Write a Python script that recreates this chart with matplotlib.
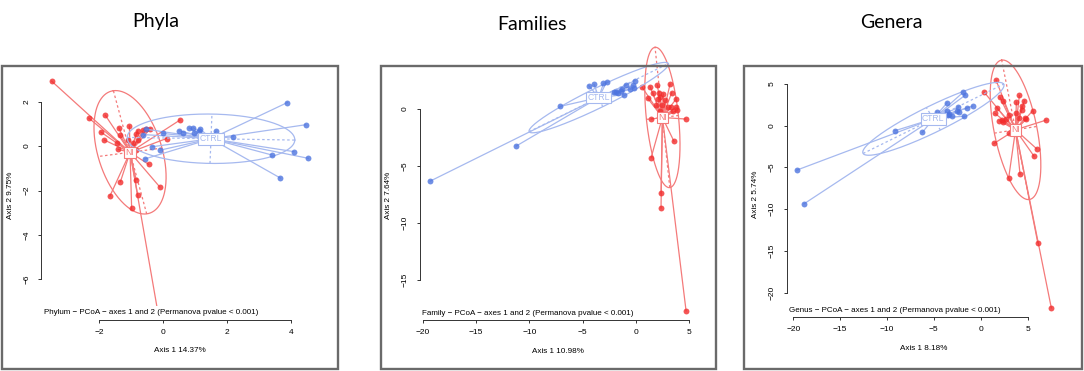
import numpy as np
import matplotlib
matplotlib.use("Agg")
import matplotlib.pyplot as plt
from matplotlib.patches import Rectangle

plt.rcParams['font.family'] = ['Liberation Sans', 'DejaVu Sans']

W, H = 1084, 371

# ---------------- Phyla ----------------
phy_ni_x = [-3.48, -2.32, -1.80, -1.94, -1.83, -1.38, -1.34, -1.43, -1.40, -1.05,
            -1.09, -0.93, -0.79, -0.83, -0.77, -0.61, -0.53, -0.40, 0.53, 0.11,
            -0.45, -1.33, -1.66, -0.84, -0.10, -0.79, -0.98, -0.17, -0.84]
phy_ni_y = [2.92, 1.26, 1.38, 0.63, 0.27, 0.82, 0.49, 0.15, -0.15, 0.91,
            0.27, 0.12, 0.69, 0.54, 0.27, 0.72, 0.75, 0.78, 1.17, 0.34,
            -0.82, -1.60, -2.25, -1.51, -1.84, -2.20, -2.80, -7.39, -0.18]
phy_ctrl_x = [-0.54, -0.64, -0.01, -0.34, -0.08, -0.57, 0.50, 0.64, 0.82, 0.95,
              0.98, 1.15, 1.14, 1.66, 2.20, 3.89, 4.46, 4.54, 4.09, 3.40, 3.67]
phy_ctrl_y = [0.76, 0.52, 0.57, -0.03, -0.18, -0.58, 0.69, 0.61, 0.81, 0.82,
              0.60, 0.79, 0.67, 0.67, 0.42, 1.96, 0.96, -0.55, -0.25, -0.40, -1.44]
phy_ni_center = [-1.03, -0.28]
phy_ni_axes = [[-0.52, 2.77], [-1.00, -0.19]]
phy_ctrl_center = [1.50, 0.33]
phy_ctrl_axes = [[2.62, -0.06], [0.03, 1.11]]
phy_xticks = [-2, 0, 2, 4]
phy_yticks = [-6, -4, -2, 0, 2]

# ---------------- Families ----------------
fam_ni_x = [0.53, 1.31, 2.00, 3.19, 1.56, 2.13, 2.56, 3.34, 1.09, 2.06,
            2.25, 2.72, 3.75, 1.88, 2.44, 2.97, 3.28, 3.75, 3.88, 3.44,
            2.25, 1.41, 4.66, 3.56, 1.41, 2.34, 2.34, 4.69]
fam_ni_y = [1.96, 1.96, 2.11, 2.19, 1.43, 1.43, 1.32, 1.43, 0.94, 0.85,
            1.08, 0.79, 0.88, 0.32, 0.35, 0.15, 0.15, 0.15, -0.12, -0.18,
            -0.20, -0.88, -0.88, -2.84, -4.27, -7.40, -8.68, -17.69]
fam_ctrl_x = [-19.31, -11.25, -7.13, -4.44, -3.94, -3.06, -2.75, -2.03, -1.88, -1.66,
              -1.44, -1.34, -1.13, -0.94, -0.53, -0.25, -0.09, -0.19]
fam_ctrl_y = [-6.32, -3.25, 0.23, 2.05, 2.16, 2.25, 2.40, 1.46, 1.49, 1.43,
              1.58, 1.78, 1.26, 2.08, 1.78, 2.08, 2.49, 1.81]
fam_ni_center = [2.47, -0.74]
fam_ni_axes = [[-0.69, 6.15], [1.50, 0.17]]
fam_ctrl_center = [-3.50, 1.00]
fam_ctrl_axes = [[6.53, 2.98], [-0.37, 0.80]]
fam_xticks = [-20, -15, -10, -5, 0, 5]
fam_yticks = [-15, -10, -5, 0]

# ---------------- Genera ----------------
gen_ni_x = [0.36, 1.64, 1.74, 1.53, 1.42, 2.06, 2.42, 1.99, 2.24, 2.42,
            2.67, 3.06, 3.06, 3.74, 3.81, 4.13, 4.38, 4.38, 4.66, 4.13,
            4.73, 4.84, 5.55, 6.98, 5.98, 5.69, 4.20, 2.99, 6.09, 7.54]
gen_ni_y = [4.04, 5.48, 2.12, 1.48, -2.12, 3.40, 3.00, 0.60, 0.68, 0.48,
            0.76, 1.28, -0.92, 1.48, 2.84, 3.64, 2.36, 1.88, 3.00, 0.88,
            0.96, 0.76, 1.80, 0.68, -2.76, -3.64, -5.80, -6.24, -14.00, -21.84]
gen_ctrl_x = [-19.64, -18.86, -9.18, -6.23, -4.70, -3.59, -3.59, -3.52, -3.35, -3.06,
              -2.49, -2.38, -2.28, -1.85, -1.64, -1.49, -1.74, -0.85]
gen_ctrl_y = [-5.32, -9.36, -0.60, -0.80, 1.68, 2.76, 1.80, 1.28, 1.40, 1.16,
              1.80, 2.20, 1.68, 4.04, 3.68, 2.12, 1.16, 2.36]
gen_ni_center = [3.72, -0.48]
gen_ni_axes = [[-1.48, 8.36], [2.26, 0.40]]
gen_ctrl_center = [-5.05, 0.84]
gen_ctrl_axes = [[7.50, 4.16], [-0.75, 1.35]]
gen_xticks = [-20, -15, -10, -5, 0, 5]
gen_yticks = [-20, -15, -10, -5, 0, 5]

titles = ['Phyla', 'Families', 'Genera']
xlabels = ['Axis 1 14.37%', 'Axis 1 10.98%', 'Axis 1 8.18%']
ylabels = ['Axis 2 9.75%', 'Axis 2 7.64%', 'Axis 2 5.74%']
subs = ['Phylum', 'Family', 'Genus']

RED = '#f22c2c'
RED_LINE = '#f47a7a'
BLUE = '#4d74df'
BLUE_LINE = '#a6b9ef'


def draw_group(ax, xs, ys, center, axes, col, lcol, label, z):
    cx, cy = center
    for x, y in zip(xs, ys):
        ax.plot([cx, x], [cy, y], color=lcol, lw=0.9, zorder=z, clip_on=False)
    u, v = np.array(axes[0]), np.array(axes[1])
    t = np.linspace(0, 2 * np.pi, 300)
    ex = cx + np.cos(t) * u[0] + np.sin(t) * v[0]
    ey = cy + np.cos(t) * u[1] + np.sin(t) * v[1]
    ax.plot(ex, ey, color=lcol, lw=0.9, zorder=z, clip_on=False)
    for w in (u, v):
        ax.plot([cx - w[0], cx + w[0]], [cy - w[1], cy + w[1]], color=lcol,
                lw=0.9, ls=(0, (2, 2)), zorder=z, clip_on=False)
    ax.scatter(xs, ys, s=18, color=col, alpha=0.8, lw=0, zorder=z + 0.5, clip_on=False)
    ax.text(cx, cy, label, color=lcol, fontsize=6.2, ha='center', va='center', zorder=6,
            bbox=dict(boxstyle='square,pad=0.15', fc='white', ec=lcol, lw=0.8))


def draw_panel(ax, ni, ctrl, xticks, yticks, xlab, ylab, sub):
    allx = np.concatenate([ni[0], ctrl[0]])
    ally = np.concatenate([ni[1], ctrl[1]])
    px = 0.04 * (allx.max() - allx.min())
    py = 0.04 * (ally.max() - ally.min())
    ax.set_xlim(allx.min() - px, allx.max() + px)
    ax.set_ylim(ally.min() - py, ally.max() + py)

    draw_group(ax, ni[0], ni[1], ni[2], ni[3], RED, RED_LINE, 'NI', 2)
    draw_group(ax, ctrl[0], ctrl[1], ctrl[2], ctrl[3], BLUE, BLUE_LINE, 'CTRL', 3)

    for s in ('top', 'right'):
        ax.spines[s].set_visible(False)
    ax.spines['left'].set_bounds(yticks[0], yticks[-1])
    ax.spines['bottom'].set_bounds(xticks[0], xticks[-1])
    for s in ('left', 'bottom'):
        ax.spines[s].set_linewidth(0.7)
        ax.spines[s].set_color('#333333')
        ax.spines[s].set_zorder(1)
    ax.set_xticks(xticks)
    ax.set_yticks(yticks)
    ax.tick_params(direction='out', length=2.5, width=0.7, color='#333333',
                   labelsize=6.0, pad=4.3)
    ax.tick_params(axis='y', labelrotation=90, pad=5.5)
    for lab in ax.get_yticklabels():
        lab.set_va('center')
    ax.xaxis.set_zorder(8)
    ax.yaxis.set_zorder(8)

    ax.annotate(xlab, xy=(0.5, 0), xycoords='axes fraction', xytext=(0, -22.5),
                textcoords='offset points', ha='center', va='center', fontsize=5.9)
    ax.annotate(ylab, xy=(0, 0.5), xycoords='axes fraction', xytext=(-22.5, 0),
                textcoords='offset points', ha='center', va='center', fontsize=5.9,
                rotation=90)
    ax.annotate(sub + ' \u2212 PCoA \u2212 axes 1 and 2 (Permanova pvalue < 0.001)',
                xy=(0, 0), xycoords='axes fraction', xytext=(1.6, 2.3),
                textcoords='offset points', ha='left', va='bottom', fontsize=5.8,
                zorder=7, bbox=dict(boxstyle='square,pad=0.45', fc='white', ec='none'))


fig = plt.figure(figsize=(W / 100, H / 100), dpi=100)
fig.patch.set_facecolor('white')

boxes = [(41.4, 318.5, 72.0, 319.5), (420.0, 696.3, 71.4, 320.0), (786.5, 1061.5, 71.0, 317.0)]
frames = [(1.5, 338.0, 65.5, 368.5), (381.0, 716.0, 66.0, 368.5), (744.0, 1082.0, 66.0, 368.5)]
title_pos = [(155.5, 21), (532, 25), (891.5, 22)]

panels = [
    ((phy_ni_x, phy_ni_y, phy_ni_center, phy_ni_axes),
     (phy_ctrl_x, phy_ctrl_y, phy_ctrl_center, phy_ctrl_axes), phy_xticks, phy_yticks),
    ((fam_ni_x, fam_ni_y, fam_ni_center, fam_ni_axes),
     (fam_ctrl_x, fam_ctrl_y, fam_ctrl_center, fam_ctrl_axes), fam_xticks, fam_yticks),
    ((gen_ni_x, gen_ni_y, gen_ni_center, gen_ni_axes),
     (gen_ctrl_x, gen_ctrl_y, gen_ctrl_center, gen_ctrl_axes), gen_xticks, gen_yticks),
]

for i, (ni, ctrl, xt, yt) in enumerate(panels):
    l, r, t, b = boxes[i]
    ax = fig.add_axes([l / W, 1 - b / H, (r - l) / W, (b - t) / H])
    ax.patch.set_alpha(0)
    ni = (np.array(ni[0]), np.array(ni[1]), ni[2], ni[3])
    ctrl = (np.array(ctrl[0]), np.array(ctrl[1]), ctrl[2], ctrl[3])
    draw_panel(ax, ni, ctrl, xt, yt, xlabels[i], ylabels[i], subs[i])

    fl, fr, ft, fb = frames[i]
    fig.add_artist(Rectangle((fl / W, 1 - fb / H), (fr - fl) / W, (fb - ft) / H,
                             transform=fig.transFigure, fill=False, ec='#6a6a6a', lw=1.7))
    tx, ty = title_pos[i]
    fig.text(tx / W, 1 - ty / H, titles[i], ha='center', va='center', fontsize=14,
             family=['Lato', 'DejaVu Sans'])

fig.savefig('out.png', dpi=100)
